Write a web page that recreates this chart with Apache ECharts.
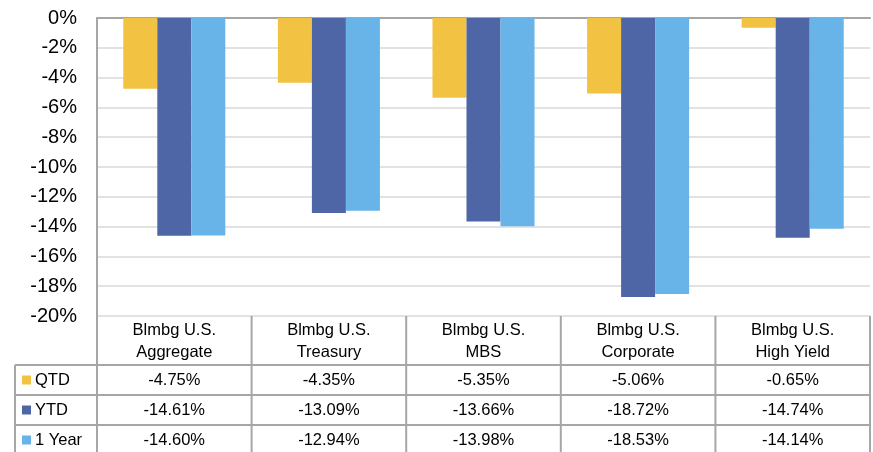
<!DOCTYPE html>
<html><head><meta charset="utf-8">
<script src="https://cdn.jsdelivr.net/npm/echarts@6/dist/echarts.min.js"></script>
<style>html,body{margin:0;padding:0;background:#fff}#c{width:873px;height:452px}</style>
</head><body><div id="c"></div>
<script>
const categories = ['Blmbg U.S.\nAggregate','Blmbg U.S.\nTreasury','Blmbg U.S.\nMBS','Blmbg U.S.\nCorporate','Blmbg U.S.\nHigh Yield'];
const seriesNames = ['QTD','YTD','1 Year'];
const qtd = [-4.75,-4.35,-5.35,-5.06,-0.65];
const ytd = [-14.61,-13.09,-13.66,-18.72,-14.74];
const oneYear = [-14.60,-12.94,-13.98,-18.53,-14.14];
const yMin = -20, yMax = 0, yStep = 2;

const colors = ['#F2C242','#4E66A5','#68B3E8'];
const font = "'Liberation Sans', Arial, sans-serif";
const seriesData = [qtd, ytd, oneYear];

const chart = echarts.init(document.getElementById('c'), null, {renderer:'canvas'});
chart.setOption({
  animation:false,
  backgroundColor:'#fff',
  grid:{left:97,right:3,top:18,bottom:136,containLabel:false},
  xAxis:{type:'category',data:categories,
    axisLine:{show:true,lineStyle:{color:'#A6A6A6',width:2}},
    axisTick:{show:false},axisLabel:{show:false},splitLine:{show:false}},
  yAxis:{type:'value',min:yMin,max:yMax,interval:yStep,
    axisLine:{show:true,lineStyle:{color:'#A6A6A6',width:2}},
    axisTick:{show:false},
    axisLabel:{formatter:'{value}%',fontSize:20,color:'#000',fontFamily:font,margin:20},
    splitLine:{show:true,lineStyle:{color:'#D9D9D9',width:1.5}}},
  series: seriesNames.map((n,i)=>({name:n,type:'bar',data:seriesData[i],
    itemStyle:{color:colors[i]},barGap:'0%',barCategoryGap:'34%'}))
});

// Data table below the plot, positioned via the chart's own axes
const c0 = chart.convertToPixel({xAxisIndex:0}, 0);
const c1 = chart.convertToPixel({xAxisIndex:0}, 1);
const band = c1 - c0;
const leftEdge = c0 - band/2;
const rightEdge = leftEdge + band*categories.length;
const yBase = chart.convertToPixel({yAxisIndex:0}, yMin);
const headerH = 49, rowH = 30;
const lineStyle = {stroke:'#A6A6A6',lineWidth:2};
const g = [];
const labelLeft = 15;
// horizontal lines
for (let r=0;r<=seriesNames.length;r++){
  const y = yBase + headerH + r*rowH;
  g.push({type:'line',shape:{x1:labelLeft,y1:y,x2:rightEdge,y2:y},style:lineStyle,z:10});
}
// vertical lines
for (let i=1;i<=categories.length;i++){
  const x = leftEdge + i*band;
  g.push({type:'line',shape:{x1:x,y1:yBase,x2:x,y2:452},style:lineStyle,z:10});
}
g.push({type:'line',shape:{x1:leftEdge,y1:yBase,x2:leftEdge,y2:452},style:lineStyle,z:10});
g.push({type:'line',shape:{x1:labelLeft,y1:yBase+headerH,x2:labelLeft,y2:452},style:lineStyle,z:10});
// header texts
categories.forEach((cat,i)=>{
  g.push({type:'text',x:leftEdge+(i+0.5)*band,y:yBase+25,
    style:{text:cat,fontSize:16.5,fontFamily:font,fill:'#000',align:'center',verticalAlign:'middle',lineHeight:22},z:11});
});
// rows
seriesNames.forEach((n,r)=>{
  const yc = yBase + headerH + r*rowH + rowH/2;
  g.push({type:'rect',shape:{x:22,y:yc-4.5,width:9,height:9},style:{fill:colors[r]},z:11});
  g.push({type:'text',x:35,y:yc,style:{text:n,fontSize:16.5,fontFamily:font,fill:'#000',align:'left',verticalAlign:'middle'},z:11});
  seriesData[r].forEach((v,i)=>{
    g.push({type:'text',x:leftEdge+(i+0.5)*band,y:yc,
      style:{text:v.toFixed(2)+'%',fontSize:16.5,fontFamily:font,fill:'#000',align:'center',verticalAlign:'middle'},z:11});
  });
});
chart.setOption({graphic:g});
</script></body></html>
